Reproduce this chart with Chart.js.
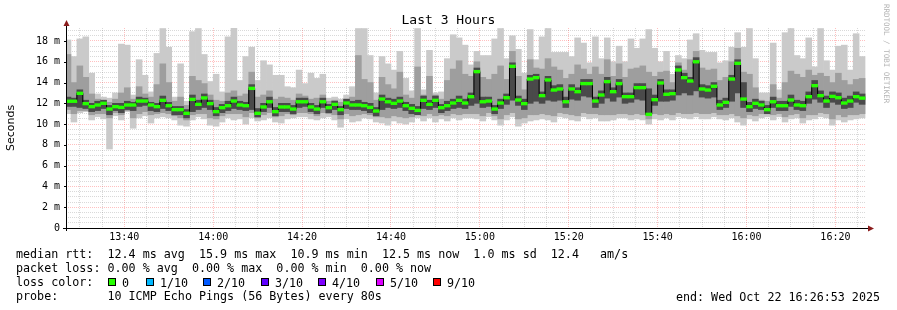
<!DOCTYPE html>
<html>
<head>
<meta charset="utf-8">
<script src="https://cdn.jsdelivr.net/npm/chart.js@4.4.1/dist/chart.umd.min.js"></script>
<style>
  html, body { margin: 0; padding: 0; background: #fff; }
  #wrap { position: relative; width: 897px; height: 310px; overflow: hidden; background: #fff; }
  #chart { position: absolute; left: 0; top: 0; }
  .mono { position: absolute; font-family: 'DejaVu Sans Mono', monospace; color: #000; white-space: pre; }
  #title { left: 0; width: 897px; top: 12px; text-align: center; font-size: 13px; line-height: 15px; }
  #credit { position: absolute; left: 882px; top: 4px; writing-mode: vertical-rl; font-family: 'DejaVu Sans Mono', monospace;
            font-size: 7.5px; color: #b4b4b4; white-space: nowrap; }
  #legend { left: 16px; top: 247px; font-size: 11.7px; line-height: 14.1px; }
  #endtxt { right: 17px; top: 289.5px; font-size: 11.7px; line-height: 14.1px; }
  .box { position: absolute; top: 278px; width: 8px; height: 8px; box-sizing: border-box; border: 1px solid #000; }
  .boxlbl { position: absolute; top: 275.5px; font-family: 'DejaVu Sans Mono', monospace; font-size: 11.7px; line-height: 14.1px; white-space: pre; }
</style>
</head>
<body>
<div id="wrap">
  <canvas id="chart" width="897" height="310"></canvas>
  <div id="title" class="mono">Last 3 Hours</div>
  <div id="credit">RRDTOOL / TOBI OETIKER</div>
  <div id="legend" class="mono"></div>
  <div id="endtxt" class="mono"></div>
</div>
<script>
// Time window: 13:26:53 .. 16:26:53, one sample every 80 s
const windowStart = "13:26:53";
const windowEnd = "16:26:53";
const firstSample = "13:27:20";
const sampleStepSec = 80;

// x axis labels (every 20 minutes), y axis labels (every 2 ms)
const xTickLabels = ["13:40", "14:00", "14:20", "14:40", "15:00", "15:20", "15:40", "16:00", "16:20"];
const yMajor = [0, 2, 4, 6, 8, 10, 12, 14, 16, 18];
const yTitle = "Seconds";

// median rtt (ms)
const median = [
  12.2, 12.2, 12.96, 11.97, 11.68, 11.84, 12.0, 11.45, 11.68, 11.61, 11.84, 11.84, 12.22, 12.22, 11.84, 11.68, 12.29, 11.77, 11.39, 11.39, 11.04, 12.38, 11.9,
  12.52, 11.97, 11.2, 11.58, 11.77, 12.22, 11.84, 11.77, 13.44, 11.04, 11.65, 12.15, 11.2, 11.65, 11.65, 11.45, 12.15, 12.15, 11.65, 11.45, 12.15, 11.58,
  11.9, 11.39, 12.03, 11.84, 11.84, 11.77, 11.61, 11.26, 12.41, 12.15, 12.0, 12.22, 11.77, 11.52, 11.32, 12.29, 11.9, 12.29, 11.58, 11.77, 12.03, 12.29, 12.03,
  12.64, 15.05, 12.15, 12.22, 11.45, 12.03, 12.54, 15.56, 12.32, 11.97, 14.34, 14.47, 12.74, 14.25, 13.28, 13.38, 12.15, 13.38, 13.12, 13.9, 13.9, 12.22, 12.8,
  14.09, 13.12, 13.9, 12.64, 12.64, 13.51, 13.51, 10.94, 12.35, 13.96, 12.87, 12.93, 15.21, 14.47, 14.15, 16.0, 13.38, 13.28, 13.64, 11.84, 12.09, 14.34, 15.85,
  12.41, 11.68, 12.0, 11.84, 11.39, 12.15, 11.77, 11.77, 12.32, 11.84, 11.77, 12.64, 13.7, 12.74, 12.22, 12.67, 12.54, 12.03, 12.22, 12.64, 12.5
];

// smoke: slowest and fastest ping of each round
const maxRtt = [
  18.1, 16.5, 18.2, 18.4, 14.9, 12.9, 12.6, 12.5, 13.0, 17.7, 17.6, 12.8, 16.2, 14.7, 13.1, 16.8, 19.2, 17.4, 12.6, 15.8, 12.2, 18.9, 19.2,
  16.7, 14.1, 14.8, 13.1, 18.4, 19.3, 14.2, 16.5, 17.4, 14.2, 16.1, 15.7, 14.7, 14.7, 13.6, 13.5, 15.2, 13.9, 14.9, 14.4, 14.8, 12.5,
  12.6, 12.4, 12.8, 13.6, 19.2, 19.2, 16.6, 13.0, 16.5, 15.8, 15.2, 17.0, 14.4, 13.2, 19.2, 13.3, 17.1, 13.0, 13.1, 16.3, 18.6, 18.3, 17.6,
  15.7, 17.0, 16.6, 16.6, 18.2, 19.2, 16.3, 18.5, 17.2, 14.9, 19.1, 16.2, 18.4, 19.2, 16.9, 16.9, 16.9, 16.5, 18.3, 17.8, 15.9, 18.4, 16.3,
  18.3, 16.0, 17.5, 16.0, 18.2, 17.3, 18.2, 19.1, 17.3, 16.0, 17.0, 14.8, 16.6, 16.3, 18.1, 18.7, 17.1, 16.9, 16.9, 15.9, 16.1, 17.4, 18.8,
  17.4, 19.2, 16.3, 13.0, 13.0, 17.8, 13.3, 18.8, 19.2, 16.6, 16.3, 18.3, 15.5, 19.2, 16.1, 15.2, 17.5, 17.6, 15.2, 18.7, 16.5
];
const minRtt = [
  11.0, 10.2, 11.1, 11.2, 10.4, 10.7, 10.5, 7.6, 10.8, 10.4, 11.2, 9.6, 10.6, 10.8, 10.1, 10.6, 10.7, 10.6, 10.4, 9.9, 9.8, 10.4, 10.7,
  10.5, 9.9, 9.8, 10.2, 10.6, 10.4, 10.5, 10.0, 10.6, 10.3, 10.4, 10.6, 10.2, 10.1, 10.5, 10.6, 10.7, 10.7, 10.5, 10.4, 10.6, 10.7,
  10.4, 9.7, 10.5, 10.2, 10.3, 10.6, 10.5, 10.2, 10.1, 9.9, 10.3, 10.1, 10.0, 10.2, 10.6, 10.3, 10.6, 10.2, 10.5, 10.3, 10.6, 10.4, 10.6,
  10.6, 10.5, 10.3, 10.7, 10.4, 9.9, 10.4, 10.7, 9.8, 10.1, 10.3, 10.4, 10.5, 10.4, 10.2, 10.7, 10.6, 10.4, 10.3, 10.7, 10.5, 10.6, 10.3,
  10.3, 10.4, 10.6, 10.6, 10.4, 10.5, 10.4, 10.0, 10.5, 10.4, 10.6, 10.4, 10.7, 10.6, 10.5, 10.7, 10.5, 10.5, 10.7, 10.5, 10.4, 10.6, 10.2,
  9.9, 10.5, 10.3, 10.6, 10.7, 10.4, 10.7, 10.2, 10.5, 10.6, 10.1, 10.4, 10.5, 10.7, 10.6, 9.9, 10.4, 10.2, 10.4, 10.5, 10.6
];

// smoke: 2nd..9th ping band
const hi2 = [
  16.7, 14.0, 15.6, 14.5, 12.9, 12.4, 12.3, 12.1, 12.4, 13.0, 13.5, 12.4, 13.6, 12.9, 12.6, 13.8, 15.8, 14.0, 12.2, 12.6, 11.8, 14.6, 14.2,
  13.9, 12.8, 12.3, 12.2, 13.0, 13.2, 12.7, 12.9, 15.0, 12.6, 12.8, 13.2, 12.4, 12.6, 12.5, 12.3, 12.9, 12.7, 12.4, 12.5, 12.8, 12.2,
  12.3, 12.1, 12.4, 12.6, 16.6, 14.3, 14.0, 12.3, 14.5, 13.8, 13.4, 15.0, 12.8, 12.5, 15.5, 12.8, 14.6, 12.8, 12.4, 14.2, 15.3, 16.1, 14.8,
  14.6, 16.0, 14.5, 14.3, 14.8, 15.6, 14.3, 17.0, 14.6, 13.3, 16.2, 15.4, 15.3, 16.3, 15.5, 15.2, 14.4, 14.8, 15.7, 15.3, 14.8, 15.5, 14.8,
  16.2, 14.6, 15.8, 14.5, 15.3, 15.4, 15.6, 15.0, 14.6, 15.0, 15.1, 14.0, 15.9, 15.2, 16.2, 17.0, 15.4, 15.2, 15.3, 14.2, 14.5, 16.0, 17.3,
  15.0, 14.8, 13.5, 12.3, 12.2, 13.8, 12.5, 14.0, 15.1, 14.8, 14.5, 15.2, 14.7, 14.9, 14.6, 14.0, 14.9, 14.2, 13.8, 14.3, 14.4
];
const lo2 = [
  11.4, 11.0, 11.3, 11.3, 10.9, 11.0, 11.0, 10.6, 11.1, 10.9, 11.3, 10.6, 11.0, 11.2, 10.9, 11.0, 11.1, 11.0, 10.8, 10.6, 10.4, 10.9, 11.0,
  11.0, 10.6, 10.5, 10.8, 11.0, 11.0, 11.0, 10.7, 11.1, 10.6, 10.9, 11.1, 10.7, 10.8, 11.0, 10.9, 11.1, 11.1, 11.0, 10.8, 11.1, 11.0,
  10.9, 10.5, 11.0, 10.8, 10.9, 11.0, 10.9, 10.7, 10.7, 10.6, 10.8, 10.7, 10.6, 10.7, 10.9, 10.8, 11.0, 10.8, 10.9, 10.8, 11.0, 10.9, 11.0,
  11.0, 11.0, 10.8, 11.1, 10.8, 10.5, 10.9, 11.1, 10.5, 10.6, 10.9, 10.9, 11.0, 10.9, 10.8, 11.1, 11.0, 10.9, 10.8, 11.1, 11.0, 11.0, 10.9,
  10.9, 10.9, 11.0, 11.0, 10.9, 11.0, 10.9, 10.5, 11.0, 10.9, 11.0, 10.9, 11.1, 11.0, 11.0, 11.1, 11.0, 11.0, 11.1, 10.9, 10.9, 11.0, 10.8,
  10.6, 10.9, 10.8, 11.0, 11.0, 10.9, 11.0, 10.7, 10.9, 11.0, 10.6, 10.9, 10.9, 11.1, 11.0, 10.5, 10.9, 10.7, 10.9, 10.9, 11.0
];

// smoke: inner pings band (darkest)
const hi3 = [
  12.6, 12.5, 13.3, 12.3, 12.0, 12.2, 12.3, 11.8, 12.0, 12.0, 12.2, 12.1, 12.6, 12.5, 12.1, 12.0, 12.7, 12.1, 11.7, 11.7, 11.4, 12.8, 12.3,
  12.9, 12.3, 11.6, 11.9, 12.2, 12.6, 12.2, 12.1, 13.8, 11.5, 12.0, 12.6, 11.6, 12.0, 12.0, 11.8, 12.5, 12.5, 12.0, 11.8, 12.5, 11.9,
  12.2, 11.7, 12.4, 12.2, 12.3, 12.1, 12.0, 11.6, 12.8, 12.5, 12.4, 12.6, 12.1, 11.9, 11.7, 12.7, 12.3, 12.7, 11.9, 12.2, 12.4, 12.7, 12.4,
  13.0, 15.4, 12.6, 12.6, 11.8, 12.4, 12.9, 15.9, 12.7, 12.4, 14.7, 14.8, 13.1, 14.6, 13.7, 13.8, 12.6, 13.8, 13.5, 14.3, 14.3, 12.6, 13.2,
  14.5, 13.5, 14.3, 13.0, 13.0, 13.9, 13.9, 13.4, 12.8, 14.3, 13.3, 13.3, 15.6, 14.9, 14.5, 16.4, 13.8, 13.7, 14.0, 12.3, 12.5, 14.7, 16.2,
  14.0, 12.1, 12.4, 12.2, 11.8, 12.6, 12.2, 12.2, 12.8, 12.3, 12.2, 13.1, 14.2, 13.2, 12.7, 13.1, 13.0, 12.5, 12.7, 13.1, 12.9
];
const lo3 = [
  11.7, 11.7, 11.6, 11.5, 11.2, 11.3, 11.5, 10.9, 11.3, 11.1, 11.4, 11.3, 11.7, 11.8, 11.3, 11.2, 11.5, 11.3, 10.9, 10.9, 10.6, 11.2, 11.4,
  11.6, 11.4, 10.8, 11.1, 11.3, 11.5, 11.4, 11.3, 11.4, 10.7, 11.2, 11.6, 10.8, 11.2, 11.2, 11.0, 11.6, 11.7, 11.2, 11.0, 11.6, 11.1,
  11.4, 10.9, 11.5, 11.4, 11.4, 11.3, 11.1, 10.8, 11.4, 11.6, 11.5, 11.6, 11.3, 11.0, 10.9, 11.5, 11.4, 11.6, 11.1, 11.3, 11.5, 11.6, 11.5,
  11.8, 12.0, 11.6, 11.7, 11.0, 11.5, 11.9, 12.3, 11.8, 11.4, 12.0, 12.2, 12.0, 12.3, 12.2, 12.3, 11.6, 12.4, 12.3, 12.7, 12.6, 11.6, 12.0,
  12.5, 12.2, 12.6, 12.0, 12.1, 12.4, 12.3, 10.9, 11.8, 12.2, 12.2, 12.3, 12.8, 13.0, 12.8, 13.2, 12.6, 12.5, 12.6, 11.4, 11.6, 12.2, 13.0,
  11.6, 11.2, 11.5, 11.4, 11.0, 11.6, 11.3, 11.3, 11.7, 11.4, 11.3, 12.0, 12.4, 12.1, 11.6, 12.1, 11.9, 11.5, 11.6, 12.1, 11.9
];

// legend
const lossLabels = ["0", "1/10", "2/10", "3/10", "4/10", "5/10", "9/10"];
const lossColors = ["#26ff00", "#00b8ff", "#0059ff", "#5e00ff", "#7e00ff", "#dd00ff", "#ff0000"];
const lossBoxLeft = [108, 146, 203, 261, 318, 376, 433];

// helpers
function toMin(s) {
  const p = s.split(":").map(Number);
  return p[0] * 60 + p[1] + (p[2] || 0) / 60;
}

const xMin = toMin(windowStart);
const xMax = toMin(windowEnd);
const t0 = toMin(firstSample);
const times = median.map((_, i) => t0 + i * sampleStepSec / 60);
const majorX = xTickLabels.map(toMin);

function band(lo, hi) {
  return times.map((t, i) => ({ x: t, y: [lo[i], hi[i]] }));
}

// legend text
document.getElementById("legend").textContent =
  "median rtt:  12.4 ms avg  15.9 ms max  10.9 ms min  12.5 ms now  1.0 ms sd  12.4   am/s\n" +
  "packet loss: 0.00 % avg  0.00 % max  0.00 % min  0.00 % now\n" +
  "loss color:\n" +
  "probe:       10 ICMP Echo Pings (56 Bytes) every 80s";
document.getElementById("endtxt").textContent = "end: Wed Oct 22 16:26:53 2025";

const wrap = document.getElementById("wrap");
lossLabels.forEach((lbl, i) => {
  const b = document.createElement("div");
  b.className = "box";
  b.style.left = lossBoxLeft[i] + "px";
  b.style.background = lossColors[i];
  wrap.appendChild(b);
  const t = document.createElement("div");
  t.className = "boxlbl";
  t.style.left = (lossBoxLeft[i] + 14) + "px";
  t.textContent = lbl;
  wrap.appendChild(t);
});

// axis lines with arrows, drawn over everything like rrdtool does
const rrdAxes = {
  id: "rrdAxes",
  afterDraw(chart) {
    const { ctx, chartArea: a, scales } = chart;
    const y = scales.y;
    ctx.save();
    ctx.strokeStyle = "#000";
    ctx.lineWidth = 1;
    ctx.beginPath();
    ctx.moveTo(a.left - 3, a.bottom + 0.5);
    ctx.lineTo(a.right + 3, a.bottom + 0.5);
    ctx.moveTo(a.left + 0.5, a.bottom + 3);
    ctx.lineTo(a.left + 0.5, a.top - 3);
    yMajor.forEach(v => {
      const py = Math.round(y.getPixelForValue(v)) + 0.5;
      ctx.moveTo(a.left - 2, py);
      ctx.lineTo(a.left, py);
    });
    ctx.stroke();
    ctx.fillStyle = "#8b1c1c";
    ctx.beginPath();
    ctx.moveTo(a.left + 0.5, a.top - 8);
    ctx.lineTo(a.left - 2.5, a.top - 2);
    ctx.lineTo(a.left + 3.5, a.top - 2);
    ctx.closePath();
    ctx.fill();
    ctx.beginPath();
    ctx.moveTo(a.right + 8, a.bottom + 0.5);
    ctx.lineTo(a.right + 2, a.bottom - 2.5);
    ctx.lineTo(a.right + 2, a.bottom + 3.5);
    ctx.closePath();
    ctx.fill();

    // vertical axis title
    ctx.translate(11, (a.top + a.bottom) / 2);
    ctx.rotate(-Math.PI / 2);
    ctx.fillStyle = "#000";
    ctx.font = "11px 'DejaVu Sans', sans-serif";
    ctx.textAlign = "center";
    ctx.textBaseline = "middle";
    ctx.fillText(yTitle, 0, 0);
    ctx.restore();
  }
};

const gridRed = "rgba(255, 60, 60, 0.32)";
const gridGrey = "rgba(120, 120, 120, 0.28)";

new Chart(document.getElementById("chart"), {
  type: "bar",
  data: {
    datasets: [
      { type: "bar", data: band(median.map(v => v - 0.13), median.map(v => v + 0.13)), backgroundColor: "#26ff00", order: 0 },
      { type: "line", data: times.map((t, i) => ({ x: t, y: median[i] })), stepped: "middle", borderColor: "#000",
        borderWidth: 1, pointRadius: 0, order: 1 },
      { type: "bar", data: band(lo3, hi3), backgroundColor: "#4a4a4a", order: 2 },
      { type: "bar", data: band(lo2, hi2), backgroundColor: "#9e9e9e", order: 3 },
      { type: "bar", data: band(minRtt, maxRtt), backgroundColor: "#cacaca", order: 4 }
    ]
  },
  options: {
    responsive: false,
    devicePixelRatio: 1,
    animation: false,
    layout: { padding: { left: 0, top: 28, right: 31, bottom: 62 } },
    datasets: {
      bar: { grouped: false, barPercentage: 1, categoryPercentage: 1, borderWidth: 0 }
    },
    plugins: { legend: { display: false }, tooltip: { enabled: false } },
    scales: {
      x: {
        type: "linear",
        min: xMin,
        max: xMax,
        offset: false,
        z: 1,
        afterBuildTicks: s => {
          const ticks = [];
          for (let m = Math.ceil(xMin / 5) * 5; m <= xMax; m += 5) ticks.push({ value: m });
          s.ticks = ticks;
        },
        afterFit: s => { s.height = 20; },
        ticks: {
          autoSkip: false,
          maxRotation: 0,
          padding: 3,
          color: "#000",
          font: { family: "'DejaVu Sans Mono', monospace", size: 10 },
          callback: v => majorX.includes(v) ? xTickLabels[majorX.indexOf(v)] : ""
        },
        grid: {
          offset: false,
          drawTicks: false,
          lineWidth: 1,
          color: c => majorX.includes(c.tick.value) ? gridRed : gridGrey
        },
        border: { display: false, dash: [1, 1] }
      },
      y: {
        type: "linear",
        min: 0,
        max: 19.25,
        z: 1,
        afterBuildTicks: s => {
          const ticks = [];
          for (let v = 0; v <= 19; v += 0.5) ticks.push({ value: v });
          s.ticks = ticks;
        },
        afterFit: s => { s.width = 66; },
        ticks: {
          autoSkip: false,
          padding: 6,
          color: "#000",
          font: { family: "'DejaVu Sans Mono', monospace", size: 10 },
          callback: v => yMajor.includes(v) ? (v === 0 ? "0" : v + " m") : ""
        },
        grid: {
          drawTicks: false,
          lineWidth: 1,
          color: c => (c.tick.value > 0 && yMajor.includes(c.tick.value)) ? gridRed : (c.tick.value > 0 ? gridGrey : "rgba(0,0,0,0)")
        },
        border: { display: false, dash: [1, 1] }
      }
    }
  },
  plugins: [rrdAxes]
});
</script>
</body>
</html>
